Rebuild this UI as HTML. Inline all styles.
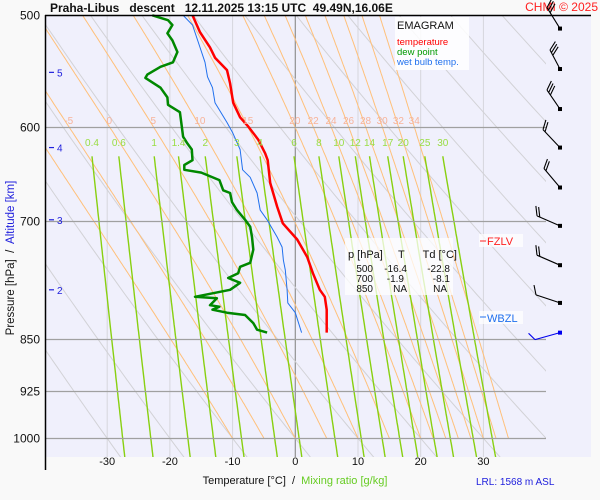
<!DOCTYPE html>
<html><head><meta charset="utf-8"><style>
html,body{margin:0;padding:0;background:#f9f9f9;}
svg{display:block;font-family:"Liberation Sans",sans-serif;}
</style></head><body>
<svg id="chart" width="600" height="500" viewBox="0 0 600 500">
<rect x="0" y="0" width="600" height="500" fill="#f9f9f9"/>
<rect x="46" y="16" width="545" height="441" fill="#f0f0fc"/>
<defs><clipPath id="clipPlot"><rect x="46" y="16" width="500" height="441"/></clipPath>
<clipPath id="clipAd"><rect x="46" y="16" width="500" height="422.5"/></clipPath></defs>
<g id="guides" clip-path="url(#clipPlot)"></g>
<g id="grid"></g>
<g id="series"></g>
<g id="labels"></g>
<line x1="45.5" y1="15" x2="45.5" y2="470" stroke="#000" stroke-width="1.5"/>
<line x1="45" y1="15.5" x2="591" y2="15.5" stroke="#000" stroke-width="1.5"/>
<text x="50" y="12" font-size="12" font-weight="bold" fill="#111" xml:space="preserve">Praha-Libus   descent   12.11.2025 13:15 UTC  49.49N,16.06E</text>
<text x="598" y="11" font-size="12" fill="#ff2020" text-anchor="end">CHMI © 2025</text>
<g>
<rect x="395" y="17" width="74" height="53" fill="#ffffff" fill-opacity="0.85"/>
<text x="397" y="29" font-size="11" fill="#111">EMAGRAM</text>
<text x="397" y="45" font-size="9.5" fill="#ff0000">temperature</text>
<text x="397" y="55" font-size="9.5" fill="#009900">dew point</text>
<text x="397" y="65" font-size="9.5" fill="#2070ee">wet bulb temp.</text>
</g>
<g>
<rect x="345" y="238" width="108" height="57" fill="#ffffff" fill-opacity="0.75"/>
<text x="348" y="258" font-size="11" fill="#111" xml:space="preserve">p [hPa]     T      Td [°C]</text>
<g font-size="10" fill="#111" text-anchor="end">
<text x="373" y="272">500</text><text x="407" y="272">-16.4</text><text x="450" y="272">-22.8</text>
<text x="373" y="282">700</text><text x="404" y="282">-1.9</text><text x="450" y="282">-8.1</text>
<text x="373" y="292">850</text><text x="407" y="292">NA</text><text x="447" y="292">NA</text>
</g></g>
<g><rect x="479" y="234" width="44" height="13" fill="#fff" fill-opacity="0.7"/><line x1="480" y1="241" x2="486" y2="241" stroke="#ff2020"/><text x="487" y="245" font-size="11" fill="#ff2020">FZLV</text></g>
<g><rect x="479" y="311" width="44" height="13" fill="#fff" fill-opacity="0.7"/><line x1="480" y1="317" x2="486" y2="317" stroke="#2070ee"/><text x="487" y="322" font-size="11" fill="#2070ee">WBZL</text></g>
<text x="295" y="484" font-size="11" fill="#111" text-anchor="middle" xml:space="preserve">Temperature [°C]  /  <tspan fill="#66cc22">Mixing ratio [g/kg]</tspan></text>
<text x="476" y="485" font-size="10" fill="#2020dd">LRL: 1568 m ASL</text>
<text transform="translate(14,258) rotate(-90)" font-size="11.5" fill="#111" text-anchor="middle" xml:space="preserve">Pressure [hPa]  /  <tspan fill="#2020dd">Altitude [km]</tspan></text>
<g id="barbs"></g>
</svg>
<script>
// ---- data ----
const pressureTicks = [500, 600, 700, 850, 925, 1000];
const tempTicks = [-30, -20, -10, 0, 10, 20, 30];
const altLabels = [5, 4, 3, 2];
const altPressures = [549, 621, 699, 784];
const tempP = [500,514,527,536,547,559,577,591,600,613,627,634,658,684,703,722,743,763,784,793,810,841];
const tempT = [-16.4,-15.2,-13.6,-12.8,-10.9,-10.4,-9.9,-8.8,-7.5,-5.9,-4.8,-4.4,-4.0,-2.9,-2.0,0.3,1.9,2.8,3.9,4.7,5.0,5.0];
const dewP = [500,504,508,515,521,531,540,544,551,554,563,572,579,586,600,610,616,623,634,639,644,647,655,666,669,679,688,699,707,719,734,750,755,763,769,775,784,793,795,804,806,810,814,817,828,837,841];
const dewT = [-22.8,-20.3,-19.6,-20.4,-19.6,-18.8,-19.5,-21.5,-23.6,-23.9,-21.5,-20.4,-20.3,-18.4,-18.1,-17.9,-17.3,-16.5,-16.4,-17.7,-17.7,-15.0,-12.1,-11.5,-10.4,-10.1,-9.3,-8.0,-7.2,-6.9,-6.7,-7.2,-8.8,-9.1,-10.7,-8.8,-10.4,-16.0,-12.5,-13.6,-12.1,-13.2,-10.9,-8.0,-6.7,-6.1,-4.5];
const wetP = [500,508,527,540,553,563,577,596,606,623,644,652,669,688,699,719,731,747,759,784,801,814,841];
const wetT = [-17.9,-16.4,-15.2,-14.4,-14.0,-13.2,-12.8,-10.9,-10.0,-8.8,-8.4,-7.2,-6.1,-5.6,-4.5,-2.9,-2.1,-1.9,-1.6,-1.3,-1.2,0.0,1.0];
const mixRatios = [0.4,0.6,1,1.4,2,3,4,6,8,10,12,14,17,20,25,30];
const moistThetas = [-10,-5,0,5,10,15,20,22,24,26,28,30,32,34];
const dryThetas = [-30,-20,-10,0,10,20,30,40,50,60,70,80,90,100];
const windP = [511,546,583,621,663,706,753,801,841];
const windBarbCount = [3,3,3,2,2,2,2,1,1];

// ---- axes ----
const X0 = 295.3, KX = 6.27, Y0 = 15.3, KY = 610.3;
function xT(t){ return X0 + t*KX; }
function yP(p){ return Y0 + KY*Math.log(p/500); }
const NS = 'http://www.w3.org/2000/svg';
function mk(parent, tag, attrs){ const e=document.createElementNS(NS,tag); for(const k in attrs) e.setAttribute(k,attrs[k]); parent.appendChild(e); return e; }
const guides = document.getElementById('guides');
const grid = document.getElementById('grid');
const series = document.getElementById('series');
const labels = document.getElementById('labels');

tempTicks.forEach(t=>{
  const l = mk(guides,'line',{x1:xT(t),x2:xT(t),y1:16,y2:457,stroke:t===0?'#909090':'#d6d6dc','stroke-width':t===0?1.2:1});
  
  
});
dryThetas.forEach(th=>{
  let pts=[]; for(let p=1040;p>=495;p-=10){ const T=(th+273.15)*Math.pow(p/1000,0.2857)-273.15; pts.push(xT(T).toFixed(1)+','+yP(p).toFixed(1)); }
  const l = mk(guides,'polyline',{points:pts.join(' '),fill:'none',stroke:'#d2d2d6','stroke-width':1});
  
  
});
function es(T){ return 6.112*Math.exp(17.67*T/(T+243.5)); }
const adG = mk(guides,'g',{'clip-path':'url(#clipAd)'});
const moistAt600 = {};
moistThetas.forEach(th=>{
  let T=th, pts=[];
  for(let p=1000;p>=495;p-=2){
    pts.push(xT(T).toFixed(1)+','+yP(p).toFixed(1));
    if(Math.abs(p-600)<1) moistAt600[th]=T;
    const Tk=T+273.15, e=es(T), rs=0.622*e/(p-e);
    const dTdp=(287*Tk+2.5e6*rs)/(p*(1005+2.5e6*2.5e6*rs*0.622/(287*Tk*Tk)));
    T -= dTdp*2;
  }
  const l = mk(adG,'polyline',{points:pts.join(' '),fill:'none',stroke:'#ffc07a','stroke-width':1});
  
  
});
mixRatios.forEach(w=>{
  let pts=[]; let xl=null;
  for(let p=630;p<=1035;p+=5){
    const e=w*p/(622+w), a=Math.log(e/6.112), Td=243.5*a/(17.67-a);
    pts.push(xT(Td).toFixed(1)+','+yP(p).toFixed(1));
    if(p===630) xl=xT(Td);
  }
  const l = mk(guides,'polyline',{points:pts.join(' '),fill:'none',stroke:'#88d010','stroke-width':1.4});
  
  
  const t = mk(labels,'text',{x:xl,y:146,'font-size':10,fill:'#99dd44','text-anchor':'middle'});
  t.textContent=String(w);
  
  
});
moistThetas.forEach(th=>{
  const x=xT(moistAt600[th]);
  if(x<50||x>546) return;
  const t = mk(labels,'text',{x:x,y:124,'font-size':10,fill:'#f7b39a','text-anchor':'middle'});
  t.textContent=String(th);
  
  
});
pressureTicks.forEach(p=>{
  const y=Math.round(yP(p))+0.5;
  if(p!==500){
    const l = mk(grid,'line',{x1:46,x2:546,y1:y,y2:y,stroke:'#a0a0a0','stroke-width':1.2});
    
    
  }
  const t = mk(labels,'text',{x:40,y:y+4,'font-size':12,fill:'#111','text-anchor':'end'});
  t.textContent=String(p);
  
  
});
tempTicks.forEach(tv=>{
  const t = mk(labels,'text',{x:xT(tv),y:465,'font-size':11,fill:'#111','text-anchor':'middle'});
  t.textContent=String(tv);
  
  
});
altLabels.forEach((a,i)=>{
  const y=yP(altPressures[i]);
  const l = mk(labels,'line',{x1:49,x2:54,y1:y,y2:y,stroke:'#2020dd','stroke-width':1.2});
  
  
  const t = mk(labels,'text',{x:57,y:y+4,'font-size':10,fill:'#2020dd'});
  t.textContent=String(a);
  
  
});
function profile(P,T,color,w,name){
  const pts=P.map((p,i)=>xT(T[i]).toFixed(1)+','+yP(p).toFixed(1)).join(' ');
  const l = mk(series,'polyline',{points:pts,fill:'none',stroke:color,'stroke-width':w,'stroke-linejoin':'round'});
  
  
}
profile(wetP,wetT,'#2070ee',1,'wet-bulb-line');
profile(dewP,dewT,'#008800',2.5,'dew-point-line');
profile(tempP,tempT,'#ff0000',2.5,'temperature-line');
const barbs=document.getElementById('barbs');
const barbDirs=[[-13,-21],[-10,-19],[-13,-19],[-17,-18],[-16,-19],[-23,-10],[-23,-10],[-24,-8],[-25,7]];
windP.forEach((p,i)=>{
  const sx=560, sy=yP(p);
  const dx=barbDirs[i][0], dy=barbDirs[i][1], n=Math.hypot(dx,dy), ux=dx/n, uy=dy/n;
  const tx=sx+dx, ty=sy+dy;
  const col=i===windP.length-1?'#0000ee':'#000';
  const g=mk(barbs,'g',{stroke:col,'stroke-width':1.1,fill:'none'});
  
  
  mk(g,'line',{x1:sx,y1:sy,x2:tx,y2:ty});
  mk(g,'rect',{x:sx-2,y:sy-2,width:4,height:4,fill:col,stroke:'none'});
  const px=-uy, py=ux;
  for(let k=0;k<windBarbCount[i];k++){
    const bx=tx-ux*k*3, by=ty-uy*k*3;
    const L=(i===windP.length-1)?9:10;
    mk(g,'line',{x1:bx,y1:by,x2:bx+(px*0.87+ux*0.5)*L,y2:by+(py*0.87+uy*0.5)*L});
  }
});
</script>
</body></html>
